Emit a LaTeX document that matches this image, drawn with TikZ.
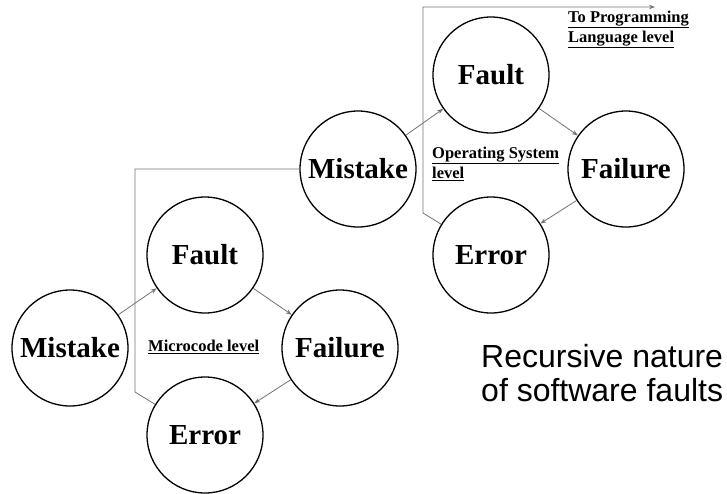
\documentclass[tikz,border=0pt]{standalone}
\usepackage{fontspec}
\setmainfont{Liberation Serif}
\newfontfamily\headfont{Liberation Sans}
\usetikzlibrary{arrows.meta}
\tikzset{
  stage/.style={circle, draw=black, line width=1.3pt, minimum size=116pt, inner sep=0pt,
    font=\fontsize{29}{30}\selectfont\bfseries},
  link/.style={draw=black!55, line width=0.8pt},
  flow/.style={link, -{Stealth[length=6pt,width=4.5pt]}},
  levelnote/.style={inner sep=0pt, align=left, anchor=north west,
    font=\fontsize{16.5}{20}\selectfont\bfseries},
}
\begin{document}
\begin{tikzpicture}[x=1pt,y=-1pt]
\useasboundingbox (0,0) rectangle (727,493);

% microcode level cycle
\node[stage] (m1) at (70,348) {Mistake};
\node[stage] (f1) at (205,255) {Fault};
\node[stage] (r1) at (340,348) {Failure};
\node[stage] (e1) at (205,435) {Error};
\node[levelnote] (l1) at (148,340) {\underline{Microcode level}};

% operating system level cycle
\node[stage] (m2) at (358,169) {Mistake};
\node[stage] (f2) at (491,75) {Fault};
\node[stage] (r2) at (626,169) {Failure};
\node[stage] (e2) at (491,255) {Error};
\node[levelnote] (l2) at (432,147) {\underline{Operating System}\\\underline{level}};
\node[levelnote] (l3) at (568,11) {\underline{To Programming}\\\underline{Language level}};

% cycle arrows
\draw[flow] (m1) -- (f1);
\draw[flow] (f1) -- (r1);
\draw[flow] (r1) -- (e1);
\draw[flow] (m2) -- (f2);
\draw[flow] (f2) -- (r2);
\draw[flow] (r2) -- (e2);

% an error feeds the mistake of the next level up
\coordinate (k1) at (135,392);
\coordinate (k2) at (423,213);
\coordinate (k3) at (423,7);
\coordinate (up) at (655,7);
\draw[link] (e1) -- (k1) |- (m2.west);
\draw[flow] (e2) -- (k2) -- (k3) -- (up);

\node[inner sep=0pt, anchor=north west, align=left,
  font=\headfont\fontsize{32}{34}\selectfont] (cap) at (481,344)
  {Recursive nature\\of software faults};
\end{tikzpicture}
\end{document}
